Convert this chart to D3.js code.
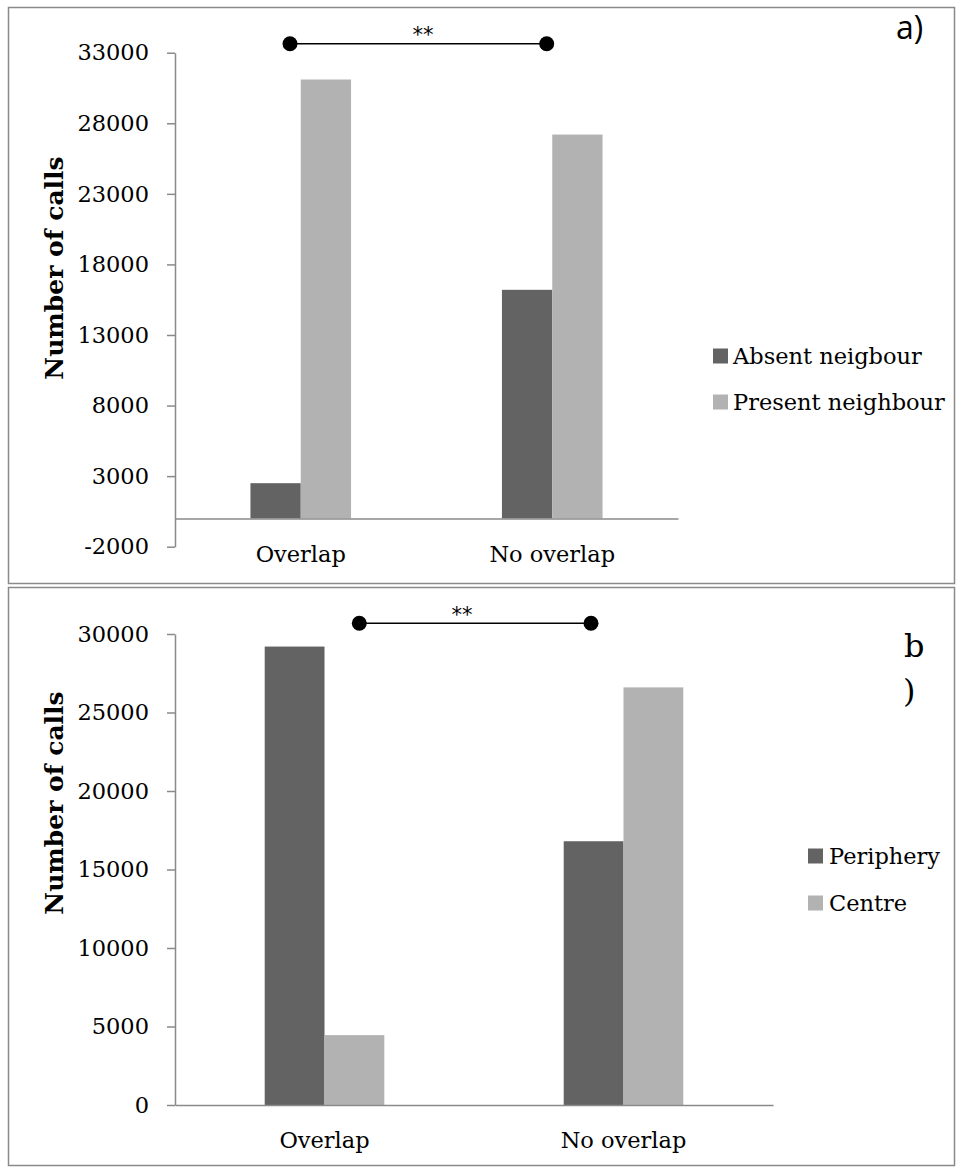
<!DOCTYPE html>
<html>
<head>
<meta charset="utf-8">
<script src="https://cdn.jsdelivr.net/npm/d3@7/dist/d3.min.js"></script>
<style>
  html, body { margin: 0; padding: 0; background: #fff; }
  svg { display: block; }
</style>
</head>
<body>
<svg id="chart" width="956" height="1167"></svg>
<script>
// ---------- DATA ----------
const categories = ["Overlap", "No overlap"];

const seriesA = ["Absent neigbour", "Present neighbour"];
const absentNeighbour = [2500, 16200];
const presentNeighbour = [31100, 27200];
const ticksA = [-2000, 3000, 8000, 13000, 18000, 23000, 28000, 33000];

const seriesB = ["Periphery", "Centre"];
const periphery = [29200, 16800];
const centre = [4450, 26600];
const ticksB = [0, 5000, 10000, 15000, 20000, 25000, 30000];

const signifLabel = "**";
const yTitle = "Number of calls";
const panelLabels = ["a)", "b\n)"];

// ---------- STYLE / LAYOUT ----------
const colors = ["#636363", "#b2b2b2"];
const axisColor = "#8a8a8a";
const serif = "'DejaVu Serif', serif";
const fs = 22.5;

const svg = d3.select("#chart");

// panel frames
svg.append("rect").attr("x", 8.5).attr("y", 7.5).attr("width", 946).attr("height", 576)
  .attr("fill", "none").attr("stroke", axisColor).attr("stroke-width", 1.5);
svg.append("rect").attr("x", 8.5).attr("y", 587.5).attr("width", 946).attr("height", 578)
  .attr("fill", "none").attr("stroke", axisColor).attr("stroke-width", 1.5);

const panels = [
  {
    series: seriesA, values: [absentNeighbour, presentNeighbour], ticks: ticksA,
    domain: [-2000, 33000], yRange: [546.7, 52.7], xRange: [175, 678],
    titleY: 268, catY: 562,
    bracket: { x1: 290, x2: 546.7, y: 43.7, tx: 423, ty: 42 },
    legend: { sx: 713, tx: 733, y0: 356, dy: 46 }
  },
  {
    series: seriesB, values: [periphery, centre], ticks: ticksB,
    domain: [0, 30000], yRange: [1105, 634], xRange: [175, 773],
    titleY: 803, catY: 1148,
    bracket: { x1: 359.3, x2: 591, y: 623.3, tx: 462, ty: 621.5 },
    legend: { sx: 808, tx: 829, y0: 856, dy: 47 }
  }
];

panels.forEach((p, pi) => {
  const g = svg.append("g");
  const y = d3.scaleLinear().domain(p.domain).range(p.yRange);
  const x0 = d3.scaleBand().domain(categories).range(p.xRange).padding(0);
  const groupW = x0.bandwidth() * 0.4;
  const x1 = d3.scaleBand().domain(p.series).range([0, groupW]).padding(0);

  // bars
  p.series.forEach((s, si) => {
    g.selectAll(null).data(categories.map((c, ci) => ({ c, v: p.values[si][ci] })))
      .enter().append("rect")
      .attr("x", d => x0(d.c) + (x0.bandwidth() - groupW) / 2 + x1(s))
      .attr("width", x1.bandwidth())
      .attr("y", d => Math.min(y(d.v), y(0)))
      .attr("height", d => Math.abs(y(0) - y(d.v)))
      .attr("fill", colors[si]);
  });

  // y axis
  const ya = g.append("g").attr("transform", `translate(${p.xRange[0]},0)`)
    .call(d3.axisLeft(y).tickValues(p.ticks).tickSize(8).tickSizeOuter(0).tickPadding(18).tickFormat(d => String(d)));
  ya.select(".domain").attr("stroke", axisColor).attr("stroke-width", 1.5);
  ya.selectAll(".tick line").attr("stroke", axisColor).attr("stroke-width", 1.5);
  ya.selectAll(".tick text").attr("fill", "#000").style("font-family", serif).style("font-size", fs + "px");

  // x axis line at zero
  const xa = g.append("g").attr("transform", `translate(0,${y(0)})`)
    .call(d3.axisBottom(x0).tickSize(0).tickSizeOuter(0).tickFormat(() => ""));
  xa.select(".domain").attr("stroke", axisColor).attr("stroke-width", 1.5);

  // category labels
  g.selectAll(null).data(categories).enter().append("text")
    .attr("x", d => x0(d) + x0.bandwidth() / 2).attr("y", p.catY)
    .attr("text-anchor", "middle").style("font-family", serif).style("font-size", fs + "px")
    .text(d => d);

  // y title
  g.append("text").attr("transform", `translate(63,${p.titleY}) rotate(-90)`)
    .attr("text-anchor", "middle").style("font-family", serif).style("font-weight", "bold")
    .style("font-size", "25px").text(yTitle);

  // significance bracket
  const b = p.bracket;
  g.append("line").attr("x1", b.x1).attr("x2", b.x2).attr("y1", b.y).attr("y2", b.y)
    .attr("stroke", "#000").attr("stroke-width", 1.5);
  g.selectAll(null).data([b.x1, b.x2]).enter().append("circle")
    .attr("cx", d => d).attr("cy", b.y).attr("r", 7.5).attr("fill", "#000");
  g.append("text").attr("x", b.tx).attr("y", b.ty).attr("text-anchor", "middle")
    .style("font-family", "'DejaVu Sans', sans-serif").style("font-size", "21px").text(signifLabel);

  // legend
  const L = p.legend;
  p.series.forEach((s, si) => {
    g.append("rect").attr("x", L.sx).attr("y", L.y0 + si * L.dy - 7.5).attr("width", 15).attr("height", 15)
      .attr("fill", colors[si]);
    g.append("text").attr("x", L.tx).attr("y", L.y0 + si * L.dy).attr("dy", "0.36em")
      .style("font-family", serif).style("font-size", fs + "px").text(s);
  });
});

// panel labels
svg.append("text").attr("x", 896).attr("y", 39)
  .style("font-family", "'Open Sans', sans-serif").style("font-size", "32px").text(panelLabels[0]);
const bl = panelLabels[1].split("\n");
svg.append("text").attr("x", 904).attr("y", 657)
  .style("font-family", serif).style("font-size", "32px").text(bl[0]);
svg.append("text").attr("x", 903).attr("y", 702)
  .style("font-family", serif).style("font-size", "32px").text(bl[1]);
</script>
</body>
</html>
